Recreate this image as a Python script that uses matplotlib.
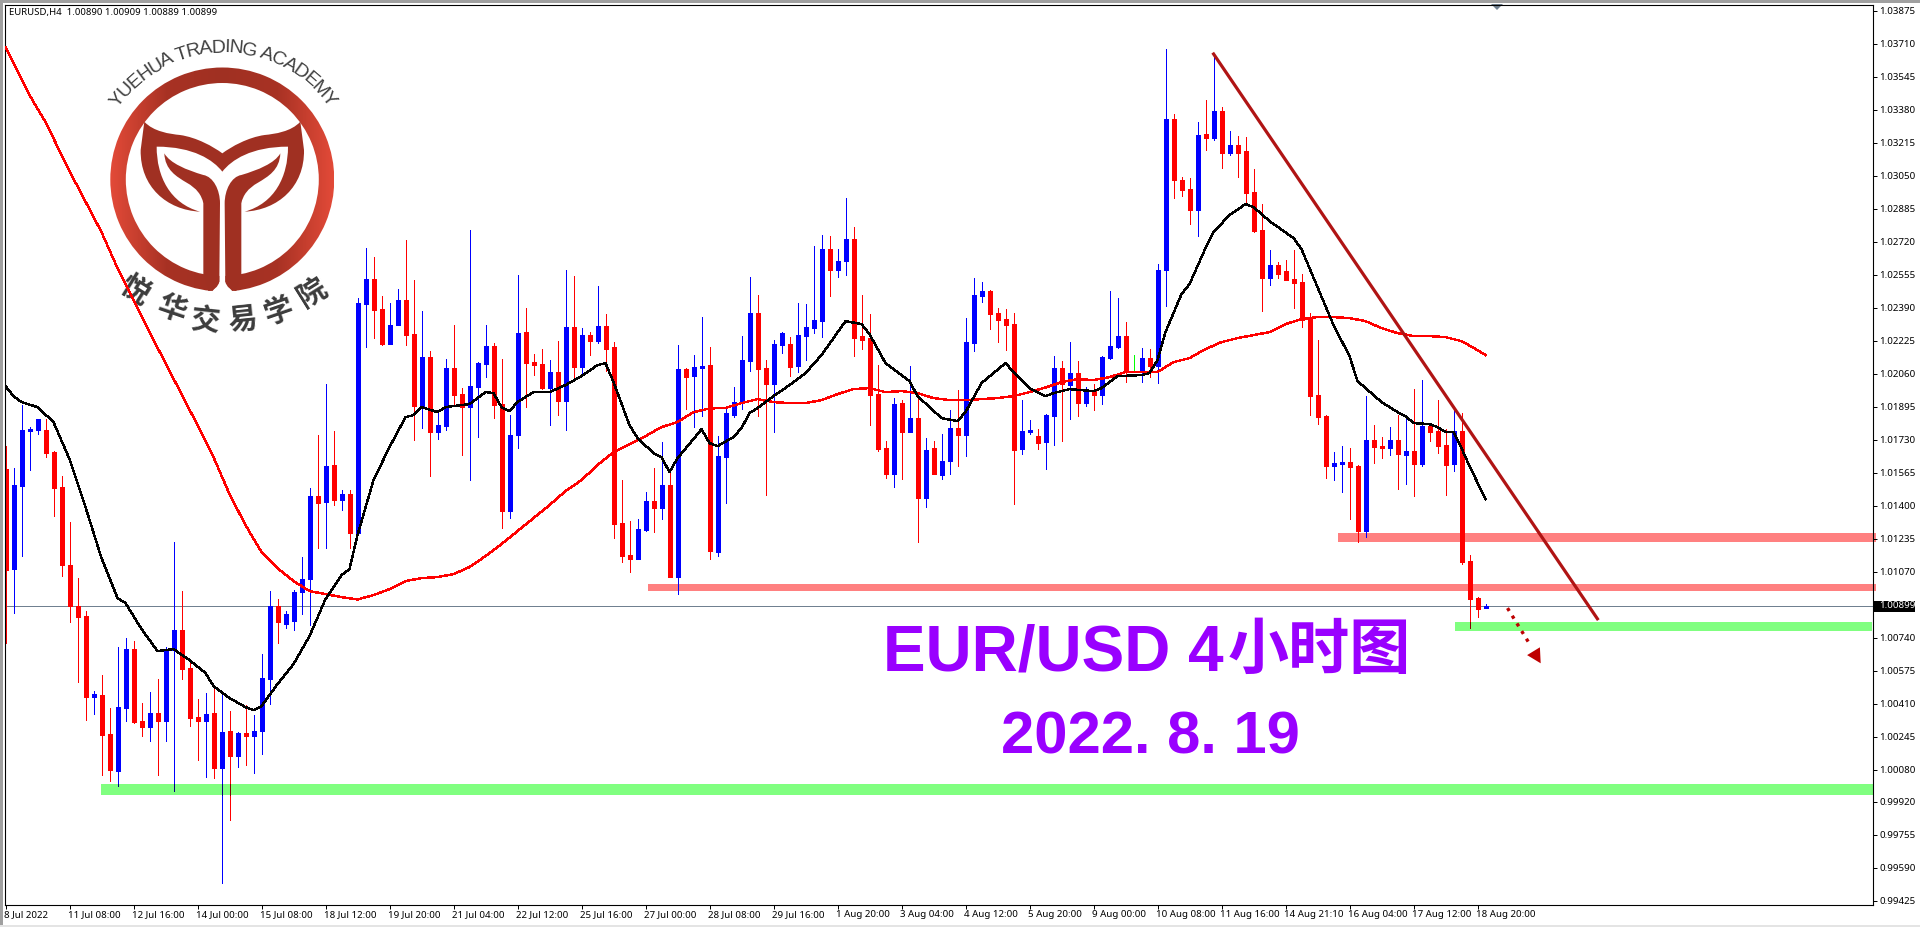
import numpy as np
import matplotlib
matplotlib.use('Agg')
import matplotlib.pyplot as plt
from matplotlib.colors import LinearSegmentedColormap
from matplotlib.path import Path
from matplotlib.patches import PathPatch, Polygon, Rectangle, Wedge
from matplotlib.transforms import ScaledTranslation

# precios en puntos (1.00890 -> 100890)
opens = [
    101583,101084,101500,101773,101780,101777,101667,101491,101105,100896,
    100846,100442,100455,100256,100075,100390,100682,100321,100294,100361,
    100324,100679,100776,100588,100341,100323,100361,100089,100271,100150,
    100261,100248,100273,100535,100896,100806,100821,100969,101034,101450,
    101420,101602,101427,101457,101264,102409,102532,102382,102207,102302,
    102427,102257,101897,102142,101769,101797,102087,101957,101892,101992,
    102107,102197,101907,101372,101752,102267,102117,102107,101987,102067,
    101922,102292,102092,102252,102222,102297,102192,101312,101152,101132,
    101277,101422,101387,101502,101042,102082,102047,102087,102102,101167,
    101642,101852,101917,102122,102362,102087,102007,102202,102207,102097,
    102247,102287,102322,102682,102577,102622,102732,102247,102237,101957,
    101687,101557,101912,101767,101837,101437,101687,101552,101622,101787,
    101752,102212,102447,102472,102362,102332,102307,101682,101767,101747,
    101717,101847,102087,102002,102062,101912,101972,101952,102137,102192,
    102247,102074,102067,102137,102097,102577,103332,103027,102982,102877,
    103257,103237,103372,103162,103202,103172,102967,102777,102537,102602,
    102572,102532,102517,102332,101952,101847,101597,101607,101617,101597,
    101272,101727,101697,101687,101727,101652,101672,101607,101797,101772,
    101702,101607,101772,101122,100937,100890]
highs = [
    101696,101586,101903,101793,101835,101832,101671,101546,101317,101037,
    100873,100473,100553,100389,100692,100737,100722,100412,100467,100533,
    100692,101217,100973,100617,100432,100462,100499,100465,100373,100268,
    100404,100353,100657,100973,100933,100873,100976,101143,101486,101752,
    102007,101772,101477,101477,102436,102687,102642,102446,102412,102482,
    102727,102527,102372,102172,101872,102132,102302,101987,102777,102117,
    102302,102211,102132,101852,102552,102387,102157,102182,102127,102222,
    102577,102547,102287,102267,102497,102357,102217,101527,101322,101332,
    101467,101587,101717,101567,102202,102090,102152,102342,102192,101747,
    101887,101992,102247,102542,102452,102127,102227,102267,102242,102412,
    102407,102697,102752,102747,102682,102937,102792,102452,102357,102102,
    101722,101937,101927,102097,101944,101737,101722,101757,101877,101977,
    102337,102537,102517,102477,102387,102382,102362,101927,101827,101782,
    101857,102147,102122,102217,102122,101992,102007,102147,102472,102437,
    102317,102152,102187,102182,102607,103682,103357,103042,103037,103317,
    103427,103647,103392,103272,103247,103242,103082,102907,102677,102617,
    102627,102677,102557,102362,102227,101852,101667,101697,101687,101602,
    101947,101802,101742,101792,101852,101832,101982,102027,101802,101927,
    101782,101882,101862,101152,100942,100909]
lows = [
    100714,100863,101150,101579,101760,101642,101346,101049,100819,100516,
    100329,100359,100054,100024,99996,100323,100313,100247,100222,100054,
    100222,99975,100533,100298,100129,100042,100037,99515,99827,100092,
    100102,100062,100158,100406,100712,100786,100776,100858,100805,101189,
    101188,101402,101377,101187,101264,102194,102239,102202,102207,102302,
    102202,101727,101787,101547,101732,101777,101902,101652,101527,101742,
    102042,101837,101287,101337,101687,101892,102052,101981,101802,101852,
    101777,102027,102052,102152,102212,102072,101237,101117,101067,101132,
    101272,101267,101332,101042,100957,101882,101792,101847,101132,101147,
    101412,101842,101882,102072,101847,101452,101767,102162,102047,102067,
    102127,102262,102242,102447,102542,102552,102147,102182,101802,101672,
    101537,101492,101532,101767,101217,101392,101557,101532,101557,101597,
    101647,102172,102417,102282,102217,102177,101407,101657,101757,101682,
    101582,101702,101722,101832,101847,101897,101877,101907,102132,102187,
    102017,102072,102017,102042,102012,102397,102937,102947,102807,102747,
    103177,103227,103087,103152,103042,102911,102767,102372,102502,102537,
    102527,102387,102292,101852,101807,101537,101527,101467,101332,101217,
    101242,101612,101637,101652,101482,101507,101447,101597,101722,101662,
    101452,101572,101107,100787,100842,100889]
closes = [
    101079,101503,101777,101783,101832,101664,101490,101104,100896,100844,
    100444,100457,100254,100079,100394,100682,100318,100294,100361,100324,
    100671,100776,100585,100339,100323,100356,100089,100268,100150,100261,
    100248,100271,100536,100896,100819,100858,100968,101035,101450,101415,
    101598,101427,101457,101264,102412,102532,102379,102207,102302,102427,
    102252,101897,102142,101769,101802,102087,101952,101894,101997,102112,
    102197,101902,101372,101752,102262,102112,102102,101987,102067,101922,
    102292,102092,102252,102222,102297,102182,101307,101147,101132,101282,
    101422,101387,101502,101042,102082,102042,102092,102097,101172,101647,
    101862,101917,102127,102362,102082,102007,102207,102262,102092,102252,
    102292,102327,102682,102577,102622,102732,102237,102227,101952,101682,
    101557,101907,101767,101837,101437,101677,101557,101622,101787,101752,
    102217,102452,102472,102357,102327,102302,101677,101772,101777,101712,
    101852,102087,102007,102062,101912,101972,101952,102142,102197,102247,
    102072,102074,102137,102097,102577,103332,103027,102977,102877,103252,
    103237,103372,103162,103202,103162,102962,102772,102537,102602,102557,
    102527,102512,102327,101947,101842,101599,101612,101617,101592,101272,
    101727,101692,101687,101727,101657,101672,101607,101797,101767,101697,
    101602,101772,101117,100932,100882,100899]

# media lenta (roja)
ma_roja_barras = [0,3,5,8,12,14,18,22,24,26,28,30,32,34,36,38,40,42,44,46,48,50,52,54,56,58,60,62,64,66,
                  68,70,72,74,76,78,80,82,84,86,88,90,92,94,96,98,100,102,104,106,108,110,112,114,116,118,
                  120,122,124,126,128,130,132,134,136,138,140,142,144,146,148,150,152,154,156,158,160,162,
                  164,166,168,170,172,174,176,178,180,182,184,185]
ma_roja = [103692,103452,103317,103072,102767,102587,102267,101957,101802,101642,101457,101302,101167,101087,
           101022,100972,100957,100942,100930,100952,100982,101022,101037,101042,101057,101092,101147,101207,
           101272,101337,101402,101472,101527,101602,101667,101707,101747,101792,101817,101867,101885,101888,
           101912,101932,101917,101912,101912,101927,101957,101982,101987,101967,101972,101962,101937,101927,
           101927,101932,101937,101947,101967,101990,102017,102032,102027,102042,102067,102067,102067,102117,
           102137,102182,102217,102237,102252,102267,102307,102332,102342,102342,102337,102322,102287,102262,
           102247,102247,102242,102222,102177,102152]

# media rapida (negra)
ma_negra_barras = [0,1,2,4,6,8,10,12,14,15,17,19,21,23,25,26,28,30,31,32,34,36,38,40,42,43,44,46,48,50,51,52,
                   54,55,58,60,61,62,63,64,66,68,70,72,74,75,76,78,79,81,82,83,84,86,87,88,89,91,92,93,94,96,
                   98,100,102,105,107,108,110,112,113,114,117,119,120,122,125,126,128,130,131,133,136,137,139,
                   142,143,144,145,146,147,148,150,151,153,155,156,158,161,162,164,166,168,169,172,174,175,176,
                   178,179,180,181,182,183,185]
ma_negra = [101997,101947,101917,101892,101817,101632,101392,101137,100937,100912,100782,100672,100682,100627,
            100562,100497,100437,100392,100377,100397,100507,100607,100747,100932,101052,101082,101252,101527,
            101692,101842,101852,101892,101867,101892,101907,101967,101962,101892,101872,101917,101967,101967,
            102002,102047,102102,102112,102017,101802,101737,101662,101642,101567,101637,101732,101782,101712,
            101697,101742,101787,101862,101887,101947,102002,102062,102152,102322,102307,102257,102112,102052,
            102022,101947,101837,101822,101867,102012,102112,102067,101987,101947,101962,101982,101972,101987,
            102047,102052,102062,102127,102267,102362,102457,102507,102687,102767,102852,102907,102892,102822,
            102737,102682,102492,102302,102147,102022,101917,101867,101847,101812,101807,101792,101767,101767,
            101687,101597,101432]

# zonas: (barra inicial, precio alto, precio bajo, barra final)
zonas_rosa = [(166.6,101262,101217,233.75),(80.3,101007,100972,233.75)]
zonas_verde = [(181.2,100817,100772,233.25),(11.9,100007,99952,233.4)]

tendencia_barras = [150.9,199.1]
tendencia_precios = [103664,100827]
flecha_barras = [187.75,190.6]
flecha_precios = [100887,100702]
punta_barras = [191.9,190.2,191.8]
punta_precios = [100611,100652,100691]

precio_actual = 1.00899
etiquetas_y = ['1.03875','1.03710','1.03545','1.03380','1.03215','1.03050','1.02885','1.02720','1.02555',
               '1.02390','1.02225','1.02060','1.01895','1.01730','1.01565','1.01400','1.01235','1.01070',
               '1.00740','1.00575','1.00410','1.00245','1.00080','0.99920','0.99755','0.99590','0.99425']
etiquetas_x = ['8 Jul 2022','11 Jul 08:00','12 Jul 16:00','14 Jul 00:00','15 Jul 08:00','18 Jul 12:00',
               '19 Jul 20:00','21 Jul 04:00','22 Jul 12:00','25 Jul 16:00','27 Jul 00:00','28 Jul 08:00',
               '29 Jul 16:00','1 Aug 20:00','3 Aug 04:00','4 Aug 12:00','5 Aug 20:00','9 Aug 00:00',
               '10 Aug 08:00','11 Aug 16:00','14 Aug 21:10','16 Aug 04:00','17 Aug 12:00','18 Aug 20:00']

W, H = 1920, 927
PX = 72 / 100   # un pixel en puntos
fuente_ejes = 'Noto Sans'
o, h, l, c = [np.array(a) / 1e5 for a in (opens, highs, lows, closes)]
barras = np.arange(len(o))
colores = np.where(c > o, '#0000ff', np.where(c < o, '#ff0000', '#00ff00'))

fig = plt.figure(figsize=(W / 100, H / 100), dpi=100, facecolor='white')

# capa de fondo en pixeles: marco de la ventana y logo
fondo = fig.add_axes([0, 0, 1, 1], zorder=0)
fondo.set_xlim(0, W)
fondo.set_ylim(H, 0)
fondo.axis('off')
fondo.add_patch(Rectangle((0, 0), W, 2.5, color='#a0a0a0', lw=0))
fondo.add_patch(Rectangle((0, 0), 2.5, H, color='#a0a0a0', lw=0))
fondo.add_patch(Rectangle((0, 925), W, 2, color='#e4e4e4', lw=0))

# logo, coordenadas medidas sobre una ampliacion x3
def z(pts):
    return [(x / 3, y / 3) for x, y in pts]

def espejo(pts):
    return [(1334 - x, y) for x, y in pts]

cx, cy = 222.3, 179.5
anillo = Wedge((cx, cy), 112, 0, 360, width=15.5, facecolor='none', edgecolor='none')
fondo.add_patch(anillo)
cmap = LinearSegmentedColormap.from_list('logo', ['#e24a38', '#a83224', '#a03022', '#a83224', '#e24a38'])
im = fondo.imshow(np.linspace(0, 1, 200).reshape(1, -1), extent=(110, 334, 292, 67), cmap=cmap, aspect='auto', zorder=1)
im.set_clip_path(anillo)
fondo.set_xlim(0, W)
fondo.set_ylim(H, 0)
fondo.add_patch(Polygon(z([(660, 600), (674, 600), (676, 845), (705, 885), (629, 885), (658, 845)]),
                        color='white', lw=0, zorder=2))

ala = [(433, 365), (460, 395), (510, 402), (540, 405), (590, 412), (640, 440), (667, 460),
       (694, 440), (744, 412), (794, 405), (824, 402), (874, 395), (901, 365),
       (912, 450), (914, 560), (834, 630), (734, 635), (824, 610), (864, 530), (864, 440),
       (754, 440), (694, 480), (667, 515), (640, 480), (580, 440), (470, 440),
       (470, 530), (510, 610), (600, 635), (500, 630), (420, 560), (422, 450), (433, 365)]
cod_ala = [Path.MOVETO] + [Path.CURVE4] * 12 + [Path.LINETO] + [Path.CURVE4] * 18 + [Path.LINETO]
cod_ala = cod_ala[:len(ala)]
fondo.add_patch(PathPatch(Path(z(ala), cod_ala), facecolor='#a03022', edgecolor='none', zorder=3))

tallo = [(493, 460), (510, 490), (560, 510), (610, 525), (640, 530), (660, 570), (660, 610),
         (658, 845), (655, 860), (640, 873), (625, 873), (610, 822), (610, 610),
         (605, 585), (590, 565), (560, 548), (530, 530), (495, 510), (493, 460)]
cod_tallo = [Path.MOVETO] + [Path.CURVE4] * 6 + [Path.LINETO] + [Path.CURVE4] * 3 + [Path.LINETO] * 2 + [Path.CURVE4] * 6
for lado in (tallo, espejo(tallo)):
    fondo.add_patch(PathPatch(Path(z(lado), cod_tallo), facecolor='#a03022', edgecolor='none', zorder=3))

# texto curvo del logo
anchos = {'A': .667, 'Y': .667, 'U': .722, 'E': .667, 'H': .722, 'T': .611, 'R': .722, 'D': .722,
          'I': .278, 'N': .722, 'G': .778, 'C': .722, 'M': .833, ' ': .278}
lema = 'YUEHUA TRADING ACADEMY'
total = sum(anchos[ch] for ch in lema)
acum = 0
for ch in lema:
    med = (acum + anchos[ch] / 2) / total
    ang = np.radians(-55 + 110 * med)
    fondo.text(cx + 1 + 128 * np.sin(ang), cy + 1 - 128 * np.cos(ang), ch, fontsize=14, family='Liberation Sans',
               color='#404040', rotation=-np.degrees(ang), rotation_mode='anchor', ha='center', va='baseline', zorder=4)
    acum += anchos[ch]

chinos = ['悦', '华', '交', '易', '学', '院']
chinos_x = [135, 172, 205, 243, 278, 312]
chinos_y = [290, 308, 320, 320, 311, 292]
chinos_rot = [-32, -19, -6, 6, 19, 32]
for ch, x, y, r in zip(chinos, chinos_x, chinos_y, chinos_rot):
    fondo.text(x, y, ch, fontsize=21, family='Noto Sans CJK SC', fontweight='bold', color='#3c3c3c',
               rotation=r, ha='center', va='center', zorder=4)

# grafico principal
izq, der, arr, aba = 4.5, 1872.5, 4.5, 904.5
ax = fig.add_axes([izq / W, 1 - aba / H, (der - izq) / W, (aba - arr) / H], zorder=1)
ax.patch.set_alpha(0)
ax.set_xlim((izq - 5.5) / 8, (der - 5.5) / 8)
ax.set_ylim(0.99405, 1.03905)

for x0, p1, p2, x1 in zonas_rosa:
    ax.add_patch(Rectangle((x0, p2 / 1e5), x1 - x0, (p1 - p2) / 1e5, color='#ff8080', lw=0, zorder=1, clip_on=False))
for x0, p1, p2, x1 in zonas_verde:
    ax.add_patch(Rectangle((x0, p2 / 1e5), x1 - x0, (p1 - p2) / 1e5, color='#80ff80', lw=0, zorder=1, clip_on=False))

ax.axhline(precio_actual, color='#708090', lw=PX, zorder=1.5, antialiased=False)

ax.vlines(barras, l, h, colors=colores, lw=PX, zorder=2, antialiased=False)
ax.vlines(barras, np.minimum(o, c), np.maximum(o, c), colors=colores, lw=5 * PX, zorder=2.1, antialiased=False)

# las mechas se oscurecen donde cruzan una zona verde
for x0, p1, p2, x1 in zonas_verde:
    for i in barras[barras >= x0]:
        sup, inf = min(h[i], p1 / 1e5), max(l[i], p2 / 1e5)
        if sup > inf:
            tono = '#000080' if c[i] > o[i] else '#800000'
            ax.vlines(i, inf, sup, colors=tono, lw=PX, zorder=2.2, antialiased=False)

ax.plot(ma_roja_barras, np.array(ma_roja) / 1e5, color='#ff0000', lw=1.0, zorder=3, antialiased=False)
ax.plot(ma_negra_barras, np.array(ma_negra) / 1e5, color='black', lw=1.0, zorder=3.1, antialiased=False)

ax.plot(tendencia_barras, np.array(tendencia_precios) / 1e5, color='#b01414', lw=2.3, zorder=4, solid_capstyle='butt')
ax.plot(flecha_barras, np.array(flecha_precios) / 1e5, color='#be0000', lw=2.4, ls=(0, (1, 1.7)), zorder=4)
ax.add_patch(Polygon(np.column_stack([punta_barras, np.array(punta_precios) / 1e5]), color='#be0000', lw=0, zorder=4))

ax.yaxis.tick_right()
ax.set_yticks([float(t) for t in etiquetas_y])
ax.set_yticklabels(etiquetas_y, fontsize=7, family=fuente_ejes)
ax.set_xticks(np.arange(len(etiquetas_x)) * 8)
ax.set_xticklabels(etiquetas_x, fontsize=7, family=fuente_ejes, ha='left')
ax.tick_params(axis='both', length=4 * PX, width=PX, color='black', direction='out')
ax.tick_params(axis='y', pad=2.2)
ax.tick_params(axis='x', pad=1.2)
for lab in ax.get_xticklabels():
    lab.set_transform(lab.get_transform() + ScaledTranslation(-1.5 / 100, 0, fig.dpi_scale_trans))
for lado in ax.spines.values():
    lado.set_linewidth(PX * 1.1)

ax.text(9 / W, 1 - 12.7 / H, 'EURUSD,H4  1.00890 1.00909 1.00889 1.00899', transform=fig.transFigure,
        fontsize=6.9, family=fuente_ejes, va='center', ha='left', zorder=6)

# etiqueta del precio actual y marca superior
fondo.add_patch(Rectangle((1874, 600.5), 41, 11, color='black', lw=0, zorder=5))
ax.text(1879 / W, 1 - 606 / H, '1.00899', transform=fig.transFigure, color='white', fontsize=7,
        family=fuente_ejes, va='center', ha='left', zorder=6, clip_on=False)
fondo.add_patch(Polygon([(1491, 4), (1503, 4), (1497, 10)], color='#708090', lw=0, zorder=5))

# titulos
morado = '#9900ff'
fig.text(883 / W, 1 - 670 / H, 'EUR/USD 4', fontsize=46, family='Liberation Sans', fontweight='bold', color=morado, va='baseline')
fig.text(1228 / W, 1 - 669 / H, '小时图', fontsize=44, family='Noto Sans CJK SC', fontweight='bold', color=morado, va='baseline')
fig.text(1150 / W, 1 - 753 / H, '2022. 8. 19', fontsize=43, family='Liberation Sans', fontweight='bold', color=morado,
         va='baseline', ha='center')

fig.savefig('out.png', dpi=100)
